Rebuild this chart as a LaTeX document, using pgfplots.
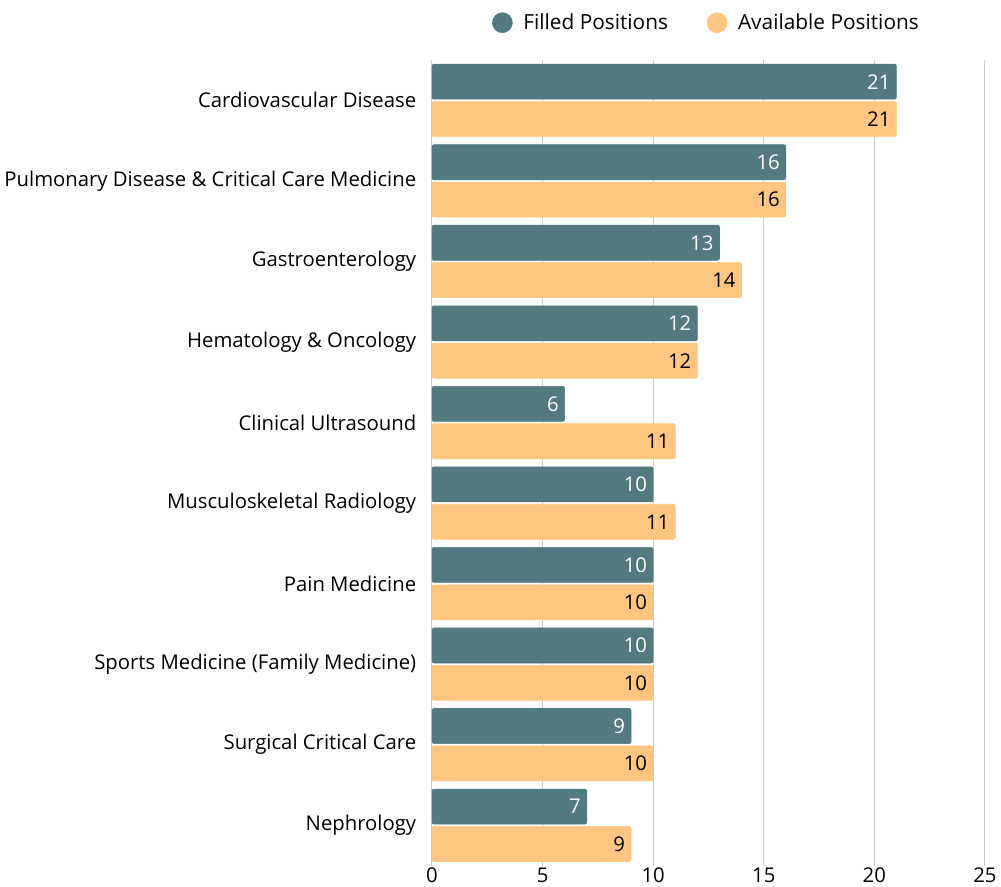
\documentclass[border=0pt]{standalone}
\usepackage{pgfplots}
\pgfplotsset{compat=1.18}
\usepackage{fontspec}
\setmainfont{Open Sans}
\definecolor{filled}{HTML}{537A7F}
\definecolor{avail}{HTML}{FFC682}
\definecolor{gridc}{HTML}{CCCCCC}
\begin{document}
\begin{tikzpicture}
\begin{axis}[
  xbar, scale only axis,
  width=414pt, height=603pt,
  xmin=0, xmax=25, ymin=-0.5, ymax=9.5,
  y dir=reverse,
  bar width=26.25pt,
  ytick={0,...,9},
  yticklabels={Cardiovascular Disease,Pulmonary Disease \& Critical Care Medicine,Gastroenterology,Hematology \& Oncology,Clinical Ultrasound,Musculoskeletal Radiology,Pain Medicine,Sports Medicine (Family Medicine),Surgical Critical Care,Nephrology},
  xtick={0,5,...,25},
  xmajorgrids, major grid style={gridc, line width=0.75pt},
  axis line style={draw=none},
  tick style={draw=none},
  tick label style={font=\fontsize{15.2}{17}\selectfont},
  /pgf/number format/assume math mode=true,
  yticklabel style={xshift=-4pt},
  xticklabel style={yshift=2pt},
  legend style={draw=none, at={(0.893,1)}, anchor=east, yshift=28pt,
    legend columns=2, font=\fontsize{15.6}{17}\selectfont,
    /tikz/every even column/.append style={column sep=27pt},
    /tikz/every odd column/.append style={column sep=6pt}},
  legend image code/.code={\fill[#1] (0.05cm,0cm) circle (7.5pt);},
  nodes near coords,
  nodes near coords align={anchor=east},
  every node near coord/.append style={font=\fontsize{15.2}{17}\selectfont, xshift=-1pt},
]
\addplot[fill=filled, draw=filled, rounded corners=1.5pt, bar shift=14pt, nodes near coords style={white}] coordinates {
(21,0) (16,1) (13,2) (12,3) (6,4) (10,5) (10,6) (10,7) (9,8) (7,9)};
\addplot[fill=avail, draw=avail, rounded corners=1.5pt, bar shift=-14pt, nodes near coords style={black}] coordinates {
(21,0) (16,1) (14,2) (12,3) (11,4) (11,5) (10,6) (10,7) (10,8) (9,9)};
\legend{Filled Positions, Available Positions}
\end{axis}
\path ([yshift=45pt]current axis.north);
\end{tikzpicture}
\end{document}
